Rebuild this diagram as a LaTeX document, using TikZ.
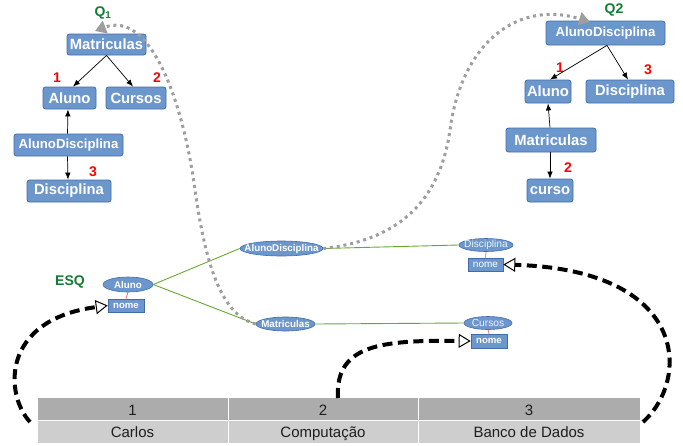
\documentclass[tikz,border=0pt]{standalone}
\usepackage{fontspec}
\setmainfont{Liberation Sans}
\usetikzlibrary{arrows.meta,shapes.geometric}

\definecolor{boxblue}{RGB}{108,151,204}
\definecolor{boxedge}{RGB}{66,108,168}
\definecolor{qgreen}{RGB}{18,124,50}
\definecolor{linkgreen}{RGB}{104,168,48}
\definecolor{ptrgray}{RGB}{158,158,158}
\definecolor{rowdark}{RGB}{172,172,172}
\definecolor{rowlight}{RGB}{206,206,206}
\definecolor{keyred}{RGB}{240,100,100}
\definecolor{celltext}{RGB}{30,30,30}

% entity labels overflow freely so the ellipse keeps its given size
\newcommand{\enttext}[1]{\makebox[0pt]{#1}}

\tikzset{
  tbox/.style={draw=boxedge, fill=boxblue, rounded corners=2.5pt, line width=0.8pt,
    text=white, inner sep=0pt, font=\fontsize{14.8}{16}\selectfont\bfseries},
  tboxsm/.style={tbox, font=\fontsize{13.2}{15}\selectfont\bfseries},
  tarrow/.style={draw=black, line width=0.7pt, -{Latex[length=7pt,width=5.5pt]}},
  redlab/.style={text=red, inner sep=0pt, font=\fontsize{14}{16}\selectfont\bfseries},
  qlab/.style={text=qgreen, inner sep=0pt, font=\fontsize{14}{16}\selectfont\bfseries},
  ent/.style={ellipse, draw=boxedge, fill=boxblue, line width=0.6pt,
    inner xsep=0pt, inner ysep=-1.5pt,
    text=white, font=\fontsize{9.8}{11}\selectfont\bfseries},
  entlight/.style={ent, text=white!88!boxblue, font=\fontsize{10.2}{11}\selectfont},
  attr/.style={rectangle, draw=boxedge, fill=boxblue, line width=0.6pt, inner sep=0pt,
    text=white, font=\fontsize{9.6}{11}\selectfont\bfseries},
  attrlight/.style={attr, font=\fontsize{10}{11}\selectfont},
  link/.style={draw=linkgreen, line width=0.9pt},
  keylink/.style={draw=keyred, line width=0.7pt},
  gptr/.style={draw=ptrgray, line width=3pt, dash pattern=on 3pt off 3.8pt,
    -{Triangle[length=11pt,width=13pt]}},
  kptr/.style={draw=black, line width=4pt, dash pattern=on 10pt off 5.5pt,
    -{Triangle[open,length=12pt,width=14pt,line width=1pt]}},
  cell/.style={inner sep=0pt, anchor=base, text=celltext, font=\fontsize{15}{17}\selectfont}
}

\begin{document}
\begin{tikzpicture}[x=1pt,y=-1pt]
\useasboundingbox (0,0) rectangle (683,445);

% ---- left query tree ----
\node[qlab] (q1) at (103,13) {Q\textsubscript{1}};
\node[tbox, minimum width=79pt, minimum height=21pt] (lMat) at (106.5,44.5) {Matriculas};
\node[tbox, minimum width=53pt, minimum height=22pt] (lAlu) at (69.5,98) {Aluno};
\node[tbox, minimum width=60pt, minimum height=22pt] (lCur) at (136,98) {Cursos};
\node[tboxsm, minimum width=109pt, minimum height=22pt] (lAD) at (68.5,145) {AlunoDisciplina};
\node[tbox, minimum width=84pt, minimum height=22pt] (lDis) at (69,191) {Disciplina};
\node[redlab] (lr1) at (57,78) {1};
\node[redlab] (lr2) at (157,78) {2};
\node[redlab] (lr3) at (93,172) {3};
\draw[tarrow] (lMat.south) -- ([xshift=3.5pt]lAlu.north);
\draw[tarrow] (lMat.south) -- ([xshift=-3pt]lCur.north);
\draw[tarrow] ([xshift=-1pt]lAD.north) -- ([xshift=-1.5pt]lAlu.south);
\draw[tarrow] ([xshift=-1pt]lAD.south) -- ([xshift=-1pt]lDis.north);

% ---- right query tree ----
\node[qlab] (q2) at (614,10) {Q2};
\node[tboxsm, minimum width=119pt, minimum height=24pt] (rAD) at (605.5,33) {AlunoDisciplina};
\node[tbox, minimum width=46pt, minimum height=23pt] (rAlu) at (548,91.5) {Aluno};
\node[tbox, minimum width=88pt, minimum height=23pt] (rDis) at (630,91.5) {Disciplina};
\node[tbox, minimum width=90pt, minimum height=24pt] (rMat) at (551,140) {Matriculas};
\node[tbox, minimum width=46pt, minimum height=23pt] (rCur) at (550,190.5) {curso};
\node[redlab] (rr1) at (560,68) {1};
\node[redlab] (rr3) at (648,70) {3};
\node[redlab] (rr2) at (568,168) {2};
\draw[tarrow] ([xshift=1.5pt]rAD.south) -- ([xshift=2pt]rAlu.north);
\draw[tarrow] ([xshift=1.5pt]rAD.south) -- ([xshift=-2pt]rDis.north);
\draw[tarrow] ([xshift=-1pt]rMat.north) -- (rAlu.south);
\draw[tarrow] ([xshift=-1pt]rMat.south) -- (rCur.north);

% ---- schema ----
\node[qlab] (esq) at (70,282) {ESQ};
\node[ent, minimum width=50pt, minimum height=15pt] (eAlu) at (128,284.5) {\enttext{Aluno}};
\node[attr, minimum width=36pt, minimum height=13pt] (nAlu) at (126,305.5) {nome};
\node[ent, minimum width=83pt, minimum height=15pt] (eAD) at (281.5,248.5) {\enttext{AlunoDisciplina}};
\node[ent, minimum width=59pt, minimum height=14pt] (eMat) at (285.5,324) {\enttext{Matriculas}};
\node[entlight, minimum width=54pt, minimum height=13pt] (eDis) at (486,245) {\enttext{Disciplina}};
\node[attrlight, minimum width=35pt, minimum height=13pt] (nDis) at (485.5,264.5) {nome};
\node[entlight, minimum width=48pt, minimum height=13pt] (eCur) at (488,323) {\enttext{Cursos}};
\node[attr, minimum width=36pt, minimum height=14pt] (nCur) at (489,341) {nome};
\draw[keylink] (eAlu.south) -- (nAlu.north);
\draw[keylink] (eDis.south) -- (nDis.north);
\draw[keylink] (eCur.south) -- (nCur.north);
\draw[link] (eAlu.east) -- (eAD.west);
\draw[link] (eAlu.east) -- (eMat.west);
\draw[link] (eAD.east) -- (eDis.west);
\draw[link] (eMat.east) -- (eCur.west);

% ---- table ----
\fill[rowdark] (38,398) rectangle (640,420);
\fill[rowlight] (38,420) rectangle (640,443);
\draw[white, line width=1pt] (38,420) -- (640,420);
\draw[white, line width=1pt] (228,398) -- (228,443);
\draw[white, line width=1pt] (418,398) -- (418,443);
\node[cell] (h1) at (132.5,415) {1};
\node[cell] (h2) at (323,415) {2};
\node[cell] (h3) at (529,415) {3};
\node[cell] (v1) at (132.5,437.5) {Carlos};
\node[cell] (v2) at (323,437.5) {Computação};
\node[cell] (v3) at (529,437.5) {Banco de Dados};

% ---- value pointers ----
\coordinate (c1) at (30,422);
\coordinate (c2) at (338,398);
\coordinate (c3) at (643,422);
\draw[kptr] (c1) .. controls (5,395) and (0,320) .. (nAlu.west);
\draw[kptr] (c2) .. controls (335,345) and (380,340) .. (nCur.west);
\draw[kptr] (c3) .. controls (690,380) and (690,270) .. (nDis.east);

% ---- query pointers ----
\coordinate (q1tip) at (95,31);
\coordinate (q2tip) at (590,22);
\draw[gptr] (eMat.west) .. controls (220,315) and (205,260) .. (195,190)
  .. controls (183,100) and (150,10) .. (q1tip);
\draw[gptr] (eAD.east) .. controls (400,240) and (440,200) .. (450,130)
  .. controls (462,40) and (520,0) .. (q2tip);
\end{tikzpicture}
\end{document}
